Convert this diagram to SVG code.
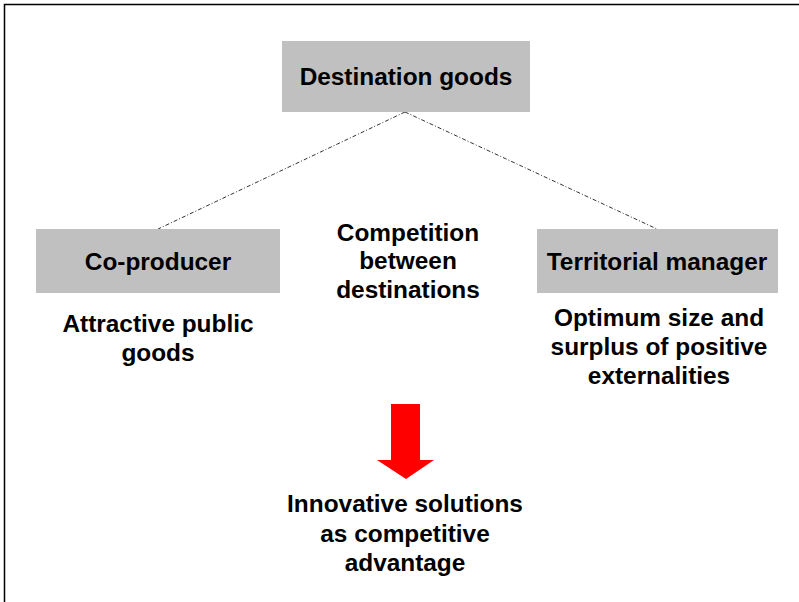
<svg xmlns="http://www.w3.org/2000/svg" width="799" height="602" viewBox="0 0 799 602">
<style>
.box{fill:#c0c0c0;}
.t{font-family:"Liberation Sans",Arial,sans-serif;font-weight:bold;font-size:24.4px;fill:#000;text-anchor:middle;}
.c{stroke:#333;stroke-width:1;stroke-dasharray:4,2,1,2;fill:none;}
</style>
<rect width="799" height="602" fill="#fff"/>
<path d="M4.5,602 V4.5 H799" fill="none" stroke="#000" stroke-width="1.5"/>
<g id="connectors">
<line class="c" x1="405" y1="112" x2="158" y2="229"/>
<line class="c" x1="405" y1="112" x2="657" y2="229"/>
</g>
<g id="destination-goods">
<rect class="box" x="282" y="41" width="248" height="71"/>
<text class="t" x="406" y="85">Destination goods</text>
</g>
<g id="co-producer">
<rect class="box" x="36" y="229" width="244" height="64"/>
<text class="t" x="158" y="270">Co-producer</text>
</g>
<g id="territorial-manager">
<rect class="box" x="537" y="229" width="241" height="64"/>
<text class="t" x="657" y="270">Territorial manager</text>
</g>
<g id="competition">
<text class="t" x="408" y="241">Competition</text>
<text class="t" x="408" y="269">between</text>
<text class="t" x="408" y="298">destinations</text>
</g>
<g id="attractive">
<text class="t" x="158" y="332">Attractive public</text>
<text class="t" x="158" y="361">goods</text>
</g>
<g id="optimum">
<text class="t" x="659" y="326">Optimum size and</text>
<text class="t" x="659" y="355">surplus of positive</text>
<text class="t" x="659" y="384">externalities</text>
</g>
<g id="arrow">
<polygon points="391,404 420,404 420,460 434,460 406,479 377,460 391,460" fill="#ff0000"/>
</g>
<g id="innovative">
<text class="t" x="405" y="512">Innovative solutions</text>
<text class="t" x="405" y="542">as competitive</text>
<text class="t" x="405" y="571">advantage</text>
</g>
</svg>
